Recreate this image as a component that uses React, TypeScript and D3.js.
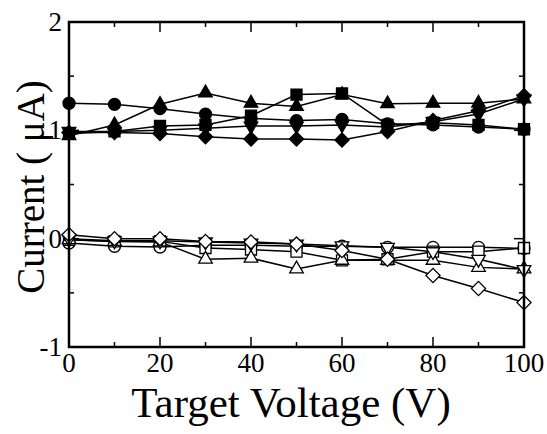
import * as d3 from 'd3';

const voltages = [0, 10, 20, 30, 40, 50, 60, 70, 80, 90, 100];

// filled markers (upper group)
const fCircle = [1.25, 1.24, 1.2, 1.15, 1.11, 1.09, 1.1, 1.06, 1.05, 1.03, 1.01];
const fTriangle = [0.95, 1.05, 1.24, 1.345, 1.25, 1.22, 1.33, 1.245, 1.25, 1.25, 1.29];
const fSquare = [0.97, 0.99, 1.04, 1.05, 1.135, 1.33, 1.34, 1.05, 1.07, 1.05, 1.01];
const fDiamond = [0.98, 0.98, 0.97, 0.94, 0.92, 0.92, 0.91, 0.99, 1.09, 1.18, 1.32];
const fInvTriangle = [0.99, 0.99, 1.0, 1.02, 1.04, 1.04, 1.05, 1.03, 1.08, 1.15, 1.29];

// open markers (lower group)
const oCircle = [-0.04, -0.07, -0.077, -0.06, -0.06, -0.07, -0.07, -0.08, -0.08, -0.08, -0.09];
const oSquare = [-0.01, -0.025, -0.025, -0.086, -0.1, -0.12, -0.2, -0.19, -0.12, -0.12, -0.086];
const oTriangle = [-0.01, -0.025, -0.03, -0.19, -0.18, -0.28, -0.2, -0.2, -0.2, -0.265, -0.28];
const oInvTriangle = [0, -0.02, -0.02, -0.03, -0.04, -0.05, -0.065, -0.08, -0.12, -0.19, -0.285];
const oDiamond = [0.037, 0, 0, -0.025, -0.03, -0.05, -0.11, -0.19, -0.34, -0.46, -0.59];

const xTicks = [0, 20, 40, 60, 80, 100];
const yTicks = [-1, 0, 1, 2];

type Shape = 'circle' | 'square' | 'triangle' | 'invtriangle' | 'diamond';

const series: { values: number[]; shape: Shape; filled: boolean }[] = [
  { values: oCircle, shape: 'circle', filled: false },
  { values: oSquare, shape: 'square', filled: false },
  { values: oTriangle, shape: 'triangle', filled: false },
  { values: oInvTriangle, shape: 'invtriangle', filled: false },
  { values: oDiamond, shape: 'diamond', filled: false },
  { values: fCircle, shape: 'circle', filled: true },
  { values: fInvTriangle, shape: 'invtriangle', filled: true },
  { values: fSquare, shape: 'square', filled: true },
  { values: fDiamond, shape: 'diamond', filled: true },
  { values: fTriangle, shape: 'triangle', filled: true },
];

function symbolPath(shape: Shape) {
  switch (shape) {
    case 'circle':
      return { d: d3.symbol(d3.symbolCircle, 113)() ?? '', rot: 0 };
    case 'square':
      return { d: d3.symbol(d3.symbolSquare, 121)() ?? '', rot: 0 };
    case 'triangle':
      return { d: d3.symbol(d3.symbolTriangle, 80)() ?? '', rot: 0 };
    case 'invtriangle':
      return { d: d3.symbol(d3.symbolTriangle, 80)() ?? '', rot: 180 };
    case 'diamond':
      return { d: d3.symbol(d3.symbolSquare, 100)() ?? '', rot: 45 };
  }
}

export default function App() {
  const width = 547;
  const height = 434;
  const left = 69;
  const right = 524;
  const top = 22;
  const bottom = 347;

  const x = d3.scaleLinear().domain([0, 100]).range([left, right]);
  const y = d3.scaleLinear().domain([-1, 2]).range([bottom, top]);
  const line = d3
    .line<number>()
    .x((_, i) => x(voltages[i]))
    .y((v) => y(v));

  const xMinor = d3.range(0, 101, 10);
  const yMinor = d3.range(-1, 2.01, 0.5);
  const font = '"Liberation Serif", "Times New Roman", serif';

  return (
    <svg
      width={width}
      height={height}
      style={{ position: 'absolute', left: 0, top: 0, background: '#fff' }}
      fontFamily={font}
    >
      {/* ticks, all sides, inward */}
      {xMinor.map((t) => {
        const len = t % 20 === 0 ? 10 : 5;
        return (
          <g key={`xt${t}`} stroke="#000" strokeWidth={1.5}>
            <line x1={x(t)} x2={x(t)} y1={bottom} y2={bottom - len} />
            <line x1={x(t)} x2={x(t)} y1={top} y2={top + len} />
          </g>
        );
      })}
      {yMinor.map((t) => {
        const len = Math.abs(t % 1) < 1e-6 ? 10 : 5;
        return (
          <g key={`yt${t}`} stroke="#000" strokeWidth={1.5}>
            <line x1={left} x2={left + len} y1={y(t)} y2={y(t)} />
            <line x1={right} x2={right - len} y1={y(t)} y2={y(t)} />
          </g>
        );
      })}

      {/* data lines */}
      {series.map((s, i) => (
        <path key={`l${i}`} d={line(s.values) ?? ''} fill="none" stroke="#000" strokeWidth={1.5} />
      ))}
      {/* markers */}
      {series.map((s, i) => {
        const sym = symbolPath(s.shape);
        return (
          <g key={`m${i}`}>
            {s.values.map((v, j) => (
              <path
                key={j}
                d={sym.d}
                transform={`translate(${x(voltages[j])},${y(v)}) rotate(${sym.rot})`}
                fill={s.filled ? '#000' : '#fff'}
                stroke="#000"
                strokeWidth={1.3}
              />
            ))}
          </g>
        );
      })}

      {/* frame */}
      <rect
        x={left}
        y={top}
        width={right - left}
        height={bottom - top}
        fill="none"
        stroke="#000"
        strokeWidth={2.5}
      />

      {/* tick labels */}
      {xTicks.map((t) => (
        <text key={`xl${t}`} x={x(t)} y={372} textAnchor="middle" fontSize={27}>
          {t}
        </text>
      ))}
      {yTicks.map((t) => (
        <text key={`yl${t}`} x={62} y={y(t) + 9} textAnchor="end" fontSize={27}>
          {t}
        </text>
      ))}

      {/* axis titles */}
      <text x={291} y={417} textAnchor="middle" fontSize={43}>
        Target Voltage (V)
      </text>
      <text
        transform={`translate(44,187) rotate(-90)`}
        textAnchor="middle"
        fontSize={39}
      >
        Current ( μA)
      </text>
    </svg>
  );
}
